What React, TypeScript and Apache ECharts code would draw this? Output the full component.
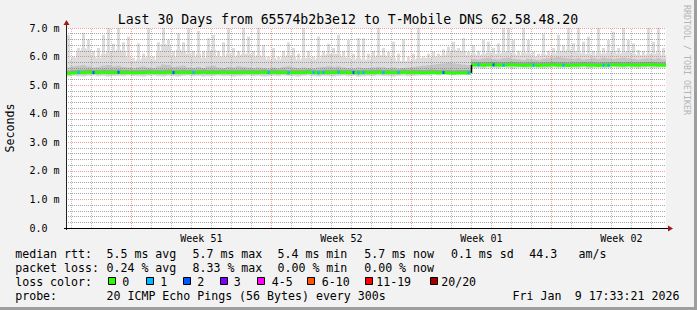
import React, { useEffect, useRef } from "react";
import * as echarts from "echarts";

// ---------------- data ----------------
const titleText = "Last 30 Days from 65574b2b3e12 to T-Mobile DNS 62.58.48.20";
const yAxisTitle = "Seconds";
const sideText = "RRDTOOL / TOBI OETIKER";
const weekLabels = ["Week 51", "Week 52", "Week 01", "Week 02"];
// days after the graph start (Dec 10 17:33:21)
const firstMidnight = 23199 / 86400;
const weekStartDayIdx = [3, 10, 17, 24];
const binDays = 0.25; // 6 h per bin, 120 bins over 30 days

const medianVals = [
  5.41, 5.43, 5.44, 5.44, 5.45, 5.44, 5.44, 5.45, 5.44, 5.44,
  5.45, 5.44, 5.44, 5.43, 5.44, 5.44, 5.45, 5.44, 5.44, 5.44,
  5.45, 5.44, 5.44, 5.45, 5.44, 5.44, 5.44, 5.45, 5.44, 5.44,
  5.44, 5.45, 5.44, 5.44, 5.44, 5.45, 5.44, 5.44, 5.44, 5.45,
  5.44, 5.45, 5.44, 5.44, 5.43, 5.44, 5.44, 5.44, 5.45, 5.44,
  5.43, 5.44, 5.44, 5.44, 5.45, 5.44, 5.44, 5.44, 5.43, 5.44,
  5.44, 5.44, 5.45, 5.44, 5.44, 5.44, 5.44, 5.45, 5.44, 5.44,
  5.44, 5.43, 5.44, 5.44, 5.43, 5.44, 5.43, 5.42, 5.43, 5.43,
  5.43,
  5.71, 5.71, 5.70, 5.71, 5.71, 5.70, 5.70, 5.71, 5.71, 5.70,
  5.69, 5.70, 5.70, 5.69, 5.70, 5.70, 5.71, 5.70, 5.70, 5.69,
  5.70, 5.70, 5.71, 5.70, 5.70, 5.69, 5.70, 5.70, 5.71, 5.71,
  5.70, 5.71, 5.70, 5.70, 5.71, 5.71, 5.71, 5.70, 5.70,
];

const lossCounts = [
  0, 0, 1, 0, 0, 2, 0, 0, 0, 0,
  2, 0, 0, 0, 0, 0, 0, 0, 0, 0,
  0, 2, 0, 0, 0, 1, 0, 0, 0, 0,
  0, 0, 0, 0, 0, 0, 0, 0, 0, 0,
  1, 0, 0, 0, 1, 0, 0, 0, 0, 1,
  1, 1, 0, 0, 1, 0, 0, 2, 1, 1,
  0, 0, 0, 1, 0, 0, 1, 0, 0, 0,
  0, 0, 0, 0, 0, 2, 0, 0, 0, 0,
  1, 0, 1, 0, 0, 2, 0, 1, 0, 0,
  0, 0, 0, 1, 0, 0, 0, 0, 0, 1,
  0, 0, 0, 0, 0, 0, 0, 1, 1, 0,
  0, 0, 0, 0, 0, 0, 0, 0, 0, 0,
];

const smokeLow = [
  5.30, 5.32, 5.31, 5.30, 5.32, 5.33, 5.31, 5.32, 5.30, 5.31,
  5.32, 5.31, 5.33, 5.32, 5.31, 5.30, 5.32, 5.33, 5.31, 5.30,
  5.32, 5.31, 5.30, 5.32, 5.33, 5.31, 5.32, 5.30, 5.31, 5.32,
  5.33, 5.31, 5.32, 5.30, 5.31, 5.32, 5.33, 5.31, 5.32, 5.30,
  5.31, 5.32, 5.31, 5.33, 5.32, 5.31, 5.30, 5.32, 5.33, 5.31,
  5.30, 5.32, 5.31, 5.30, 5.32, 5.33, 5.31, 5.32, 5.30, 5.31,
  5.32, 5.31, 5.33, 5.32, 5.31, 5.30, 5.32, 5.33, 5.31, 5.32,
  5.33, 5.34, 5.33, 5.35, 5.34, 5.35, 5.36, 5.35, 5.34, 5.36,
  5.35,
  5.59, 5.60, 5.58, 5.61, 5.60, 5.59, 5.62, 5.60, 5.58, 5.61,
  5.60, 5.59, 5.61, 5.60, 5.58, 5.60, 5.61, 5.59, 5.60, 5.62,
  5.60, 5.59, 5.61, 5.58, 5.60, 5.61, 5.59, 5.60, 5.62, 5.60,
  5.59, 5.61, 5.60, 5.58, 5.60, 5.61, 5.59, 5.60, 5.61,
];

const smokeDark = [
  5.62, 5.66, 5.68, 5.70, 5.66, 5.62, 5.64, 5.68, 5.70, 5.66,
  5.68, 5.64, 5.62, 5.60, 5.63, 5.66, 5.62, 5.60, 5.66, 5.72,
  5.70, 5.64, 5.66, 5.68, 5.62, 5.60, 5.64, 5.60, 5.66, 5.68,
  5.62, 5.60, 5.64, 5.62, 5.66, 5.64, 5.62, 5.60, 5.62, 5.60,
  5.58, 5.62, 5.60, 5.64, 5.66, 5.62, 5.60, 5.62, 5.60, 5.58,
  5.62, 5.64, 5.66, 5.64, 5.66, 5.62, 5.60, 5.58, 5.62, 5.60,
  5.60, 5.62, 5.64, 5.62, 5.60, 5.62, 5.58, 5.60, 5.62, 5.64,
  5.66, 5.68, 5.70, 5.72, 5.74, 5.76, 5.78, 5.76, 5.74, 5.72,
  5.70,
  5.92, 5.90, 5.94, 5.96, 5.92, 5.90, 5.94, 5.96, 5.92, 5.90,
  5.88, 5.92, 5.90, 5.88, 5.92, 5.94, 5.96, 5.98, 5.96, 5.94,
  5.92, 5.94, 5.90, 5.92, 5.94, 5.92, 5.96, 5.94, 5.92, 5.94,
  5.96, 5.94, 5.92, 5.90, 5.92, 5.94, 5.92, 5.94, 5.90,
];

const humpMax = [
  5.9, 5.95, 6.2, 6.3, 6.25, 6.0, 5.95, 6.1, 6.2, 6.2,
  6.25, 6.2, 6.0, 5.85, 5.9, 5.95, 6.0, 5.9, 6.2, 6.45,
  6.4, 6.0, 6.25, 6.2, 6.1, 6.0, 6.1, 5.95, 6.2, 6.25,
  6.0, 6.0, 6.1, 6.0, 6.05, 6.1, 6.1, 6.0, 6.05, 6.0,
  5.9, 5.95, 5.9, 6.0, 6.05, 6.0, 5.9, 5.95, 5.95, 5.9,
  5.95, 6.05, 6.1, 6.1, 6.1, 6.0, 5.95, 5.9, 5.95, 5.9,
  5.9, 6.0, 6.05, 6.05, 6.0, 5.95, 5.85, 5.85, 5.85, 5.9,
  5.95, 5.95, 5.95, 6.0, 6.0, 6.05, 6.15, 6.25, 6.2, 6.2,
  6.05, 6.1, 6.05, 6.1, 6.15, 6.1, 6.1, 6.15, 6.2, 6.1,
  6.05, 6.15, 6.1, 6.0, 6.0, 6.1, 6.05, 6.1, 6.2, 6.2,
  6.25, 6.2, 6.15, 6.1, 6.1, 6.05, 6.15, 6.1, 6.15, 6.2,
  6.1, 6.15, 6.2, 6.1, 6.05, 6.05, 6.1, 6.1, 6.15, 6.05,
];

const spikeMax = [
  6.76, 6.0, 6.3, 6.83, 6.6, 6.2, 6.3, 6.76, 7.0, 6.45,
  7.0, 6.5, 6.7, 5.95, 6.46, 6.1, 7.0, 6.0, 6.5, 7.0,
  6.6, 6.2, 6.82, 6.5, 7.0, 6.2, 6.9, 6.2, 6.64, 6.76,
  6.2, 6.5, 7.0, 6.3, 6.2, 7.0, 6.7, 6.2, 7.0, 6.4,
  6.0, 6.3, 6.0, 6.2, 6.5, 6.3, 6.1, 7.0, 6.2, 6.0,
  6.7, 6.2, 6.45, 6.3, 6.76, 6.2, 6.58, 6.1, 6.64, 6.64,
  6.1, 6.2, 7.0, 6.3, 6.17, 6.52, 6.1, 6.6, 6.0, 6.1,
  7.0, 6.0, 6.1, 6.17, 6.1, 6.25, 6.35, 6.52, 6.3, 6.64,
  6.17, 6.4, 6.2, 6.58, 6.52, 6.3, 6.46, 7.0, 7.0, 6.58,
  6.2, 7.0, 6.58, 6.17, 6.1, 6.8, 6.2, 6.3, 6.76, 6.4,
  7.0, 6.46, 7.0, 6.52, 6.7, 6.2, 7.0, 6.3, 6.58, 6.87,
  6.3, 7.0, 6.58, 6.46, 6.23, 6.2, 7.0, 6.52, 7.0, 6.3,
];

const lossLabels = ["0", "1", "2", "3", "4-5", "6-10", "11-19", "20/20"];
const lossColors = ["#26ff00", "#00b8ff", "#0059ff", "#7e00ff", "#ff00ff", "#ff5500", "#ff0000", "#a10000"];

const medianRow = ["median rtt:", "5.5 ms avg", "5.7 ms max", "5.4 ms min", "5.7 ms now", "0.1 ms sd", "44.3", "am/s"];
const lossRow = ["packet loss:", "0.24 % avg", "8.33 % max", "0.00 % min", "0.00 % now"];
const lossColorLabel = "loss color:";
const probeRow = ["probe:", "20 ICMP Echo Pings (56 Bytes) every 300s", "Fri Jan", "9 17:33:21 2026"];

// ---------------- layout ----------------
const W = 697;
const H = 310;
const G_LEFT = 66;
const G_TOP = 28;
const G_W = 600;
const G_H = 200;
const MONO = "'DejaVu Sans Mono', monospace";
const medianRowX = [16, 107.3, 193.3, 278.3, 365, 451.7, 530, 579.3];
const lossRowX = [16, 107.3, 193.3, 278.3, 365];
const probeRowX = [16, 107.3, 513.3, 575.5];
const swatchX = [108, 146, 183, 220, 257, 307, 365, 430];
const swatchLabelX = [123, 161, 198, 234.5, 272.5, 322.5, 377, 442];
const rowY = [254, 268, 282, 296];

function lossLevel(n: number): number {
  if (n <= 0) return 0;
  if (n <= 3) return n;
  if (n <= 5) return 4;
  if (n <= 10) return 5;
  if (n <= 19) return 6;
  return 7;
}

export default function App() {
  const ref = useRef<HTMLDivElement>(null);

  useEffect(() => {
    if (!ref.current) return;
    const chart = echarts.init(ref.current, undefined, { renderer: "svg" });

    const smokeData = medianVals.map((m, i) => [
      (i + 0.5) * binDays, smokeLow[i], smokeDark[i], humpMax[i], spikeMax[i], m,
    ]);
    const medianData = medianVals.map((m, i) => [(i + 0.5) * binDays, m, lossCounts[i]]);

    const dayLines: number[] = [];
    for (let k = 0; k < 30; k++) dayLines.push(firstMidnight + k);
    const weekLabelDays = weekStartDayIdx.map((k) => firstMidnight + k + 3.5);

    const minorGreyV = "rgba(150,150,150,0.6)";
    const minorGreyH = "rgba(110,110,110,0.62)";
    const majorRed = "rgba(235,60,60,0.5)";
    const gridMarks: any[] = [];
    dayLines.forEach((v, k) => {
      const major = weekStartDayIdx.indexOf(k) >= 0;
      gridMarks.push({ xAxis: v, lineStyle: { color: major ? majorRed : minorGreyV, type: [1, 1], width: 1 } });
    });
    for (let s = 1; s <= 35; s++) {
      const v = s / 5;
      const major = s % 5 === 0;
      gridMarks.push({ yAxis: v, lineStyle: { color: major ? majorRed : minorGreyH, type: [1, 1], width: 1 } });
    }

    const legendTexts: any[] = [];
    const addRow = (tokens: string[], xs: number[], y: number) => {
      tokens.forEach((t, i) => {
        legendTexts.push({
          type: "text",
          x: xs[i] - 0.8,
          y,
          style: { text: t, font: `11.6px ${MONO}`, fill: "#000", verticalAlign: "middle", align: "left" },
        });
      });
    };
    addRow(medianRow, medianRowX, rowY[0]);
    addRow(lossRow, lossRowX, rowY[1]);
    addRow([lossColorLabel], [16], rowY[2]);
    addRow(probeRow, probeRowX, rowY[3]);
    lossLabels.forEach((lab, i) => {
      legendTexts.push({
        type: "rect",
        shape: { x: swatchX[i] + 0.5, y: rowY[2] - 4.5, width: 7, height: 7 },
        style: { fill: lossColors[i], stroke: "#000", lineWidth: 1 },
      });
      legendTexts.push({
        type: "text",
        x: swatchLabelX[i] - 0.8,
        y: rowY[2],
        style: { text: lab, font: `11.6px ${MONO}`, fill: "#000", verticalAlign: "middle", align: "left" },
      });
    });

    const option: any = {
      animation: false,
      backgroundColor: "#f2f2f2",
      grid: {
        left: G_LEFT, top: G_TOP, width: G_W, height: G_H,
        show: true, backgroundColor: "#ffffff", borderWidth: 0,
      },
      xAxis: {
        type: "value", min: 0, max: 30,
        axisLine: { show: false },
        axisTick: { show: false },
        splitLine: { show: false },
        axisLabel: {
          customValues: weekLabelDays,
          formatter: (v: number) => {
            const j = weekLabelDays.findIndex((d) => Math.abs(d - v) < 0.01);
            return j >= 0 ? weekLabels[j] : "";
          },
          fontFamily: MONO, fontSize: 10, color: "#000", margin: 5,
        },
      },
      yAxis: {
        type: "value", min: 0, max: 7, interval: 1,
        axisLine: { show: false },
        axisTick: { show: false },
        splitLine: { show: false },
        axisLabel: {
          formatter: (v: number) => (v === 0 ? "0.0" : v.toFixed(1) + " m"),
          fontFamily: MONO, fontSize: 10, color: "#000", align: "left", margin: 36.5,
        },
      },
      series: [
        {
          type: "custom",
          name: "smoke",
          z: 2,
          clip: true,
          data: smokeData,
          renderItem: (params: any, api: any) => {
            const t = api.value(0);
            const lo = api.value(1), dk = api.value(2), hu = api.value(3), sp = api.value(4), md = api.value(5);
            const w = api.size([binDays, 0])[0];
            const x0 = api.coord([t - binDays / 2, 0])[0];
            const yOf = (v: number) => api.coord([t, v])[1];
            return {
              type: "group",
              children: [
                { type: "rect", shape: { x: x0, y: yOf(hu), width: w, height: yOf(lo) - yOf(hu) }, style: { fill: "#dcdcdc" } },
                { type: "rect", shape: { x: x0 + 1, y: yOf(sp), width: 3, height: yOf(hu) - yOf(sp) }, style: { fill: "#dcdcdc" } },
                { type: "rect", shape: { x: x0, y: yOf(md - 0.05), width: w, height: yOf(lo + 0.04) - yOf(md - 0.05) }, style: { fill: "#cbcbcb" } },
                { type: "rect", shape: { x: x0, y: yOf(dk), width: w, height: yOf(md) - yOf(dk) }, style: { fill: "#c4c4c4" } },
                { type: "rect", shape: { x: x0, y: yOf(md + 0.1), width: w, height: yOf(md) - yOf(md + 0.1) }, style: { fill: "#a2a2a2" } },
              ],
            };
          },
        },
        {
          type: "line",
          name: "grid",
          z: 4,
          data: [[0, 0]],
          showSymbol: false,
          lineStyle: { opacity: 0 },
          silent: true,
          markLine: {
            silent: true,
            symbol: ["none", "none"],
            label: { show: false },
            emphasis: { disabled: true },
            data: gridMarks,
          },
        },
        {
          type: "custom",
          name: "median",
          z: 10,
          clip: true,
          data: medianData,
          renderItem: (params: any, api: any) => {
            const i = params.dataIndex;
            const t = api.value(0);
            const md = api.value(1);
            const loss = api.value(2);
            const w = api.size([binDays, 0])[0];
            const x0 = api.coord([t - binDays / 2, 0])[0];
            const y = api.coord([t, md])[1];
            const children: any[] = [
              { type: "rect", shape: { x: x0, y: y - 1.5, width: w, height: 3 }, style: { fill: lossColors[0] } },
            ];
            if (loss > 0) {
              children.push({ type: "rect", shape: { x: x0 + 1.5, y: y - 1.5, width: 2, height: 3 }, style: { fill: lossColors[lossLevel(loss)] } });
            }
            if (i > 0 && Math.abs(medianVals[i - 1] - md) > 0.1) {
              const yp = api.coord([t, medianVals[i - 1]])[1];
              children.push({ type: "line", shape: { x1: x0 + 0.5, y1: yp, x2: x0 + 0.5, y2: y }, style: { stroke: "#000", lineWidth: 1.5 } });
            }
            return { type: "group", children };
          },
        },
      ],
      graphic: [
        // frame shadow
        { type: "rect", shape: { x: W - 3, y: 0, width: 3, height: H }, style: { fill: "#9e9e9e" }, silent: true },
        { type: "rect", shape: { x: 0, y: H - 3, width: W, height: 3 }, style: { fill: "#9e9e9e" }, silent: true },
        // title
        {
          type: "text", x: 348, y: 19,
          style: { text: titleText, font: `13.2px ${MONO}`, fill: "#000", align: "center", verticalAlign: "middle" },
        },
        {
          type: "text", x: 10, y: 128, rotation: Math.PI / 2,
          style: { text: yAxisTitle, font: `11.6px ${MONO}`, fill: "#000", align: "center", verticalAlign: "middle" },
        },
        {
          type: "text", x: 687, y: 60, rotation: -Math.PI / 2,
          style: { text: sideText, font: `8.3px ${MONO}`, fill: "#b4b4b4", align: "center", verticalAlign: "middle" },
        },
        // axes
        { type: "line", z: 20, shape: { x1: G_LEFT + 0.5, y1: G_TOP + G_H + 2, x2: G_LEFT + 0.5, y2: G_TOP - 4 }, style: { stroke: "#222", lineWidth: 1 } },
        { type: "line", z: 20, shape: { x1: G_LEFT - 2, y1: G_TOP + G_H + 0.5, x2: G_LEFT + G_W + 3, y2: G_TOP + G_H + 0.5 }, style: { stroke: "#000", lineWidth: 1 } },
        { type: "polygon", z: 21, shape: { points: [[G_LEFT - 2.5, G_TOP - 3], [G_LEFT + 3.5, G_TOP - 3], [G_LEFT + 0.5, G_TOP - 8]] }, style: { fill: "#a11a1a" } },
        { type: "polygon", z: 21, shape: { points: [[G_LEFT + G_W + 2, G_TOP + G_H - 2.5], [G_LEFT + G_W + 2, G_TOP + G_H + 3.5], [G_LEFT + G_W + 7, G_TOP + G_H + 0.5]] }, style: { fill: "#a11a1a" } },
        ...legendTexts,
      ],
    };

    chart.setOption(option);
    return () => chart.dispose();
  }, []);

  return (
    <div
      ref={ref}
      style={{ position: "absolute", left: 0, top: 0, width: W, height: H }}
    />
  );
}
